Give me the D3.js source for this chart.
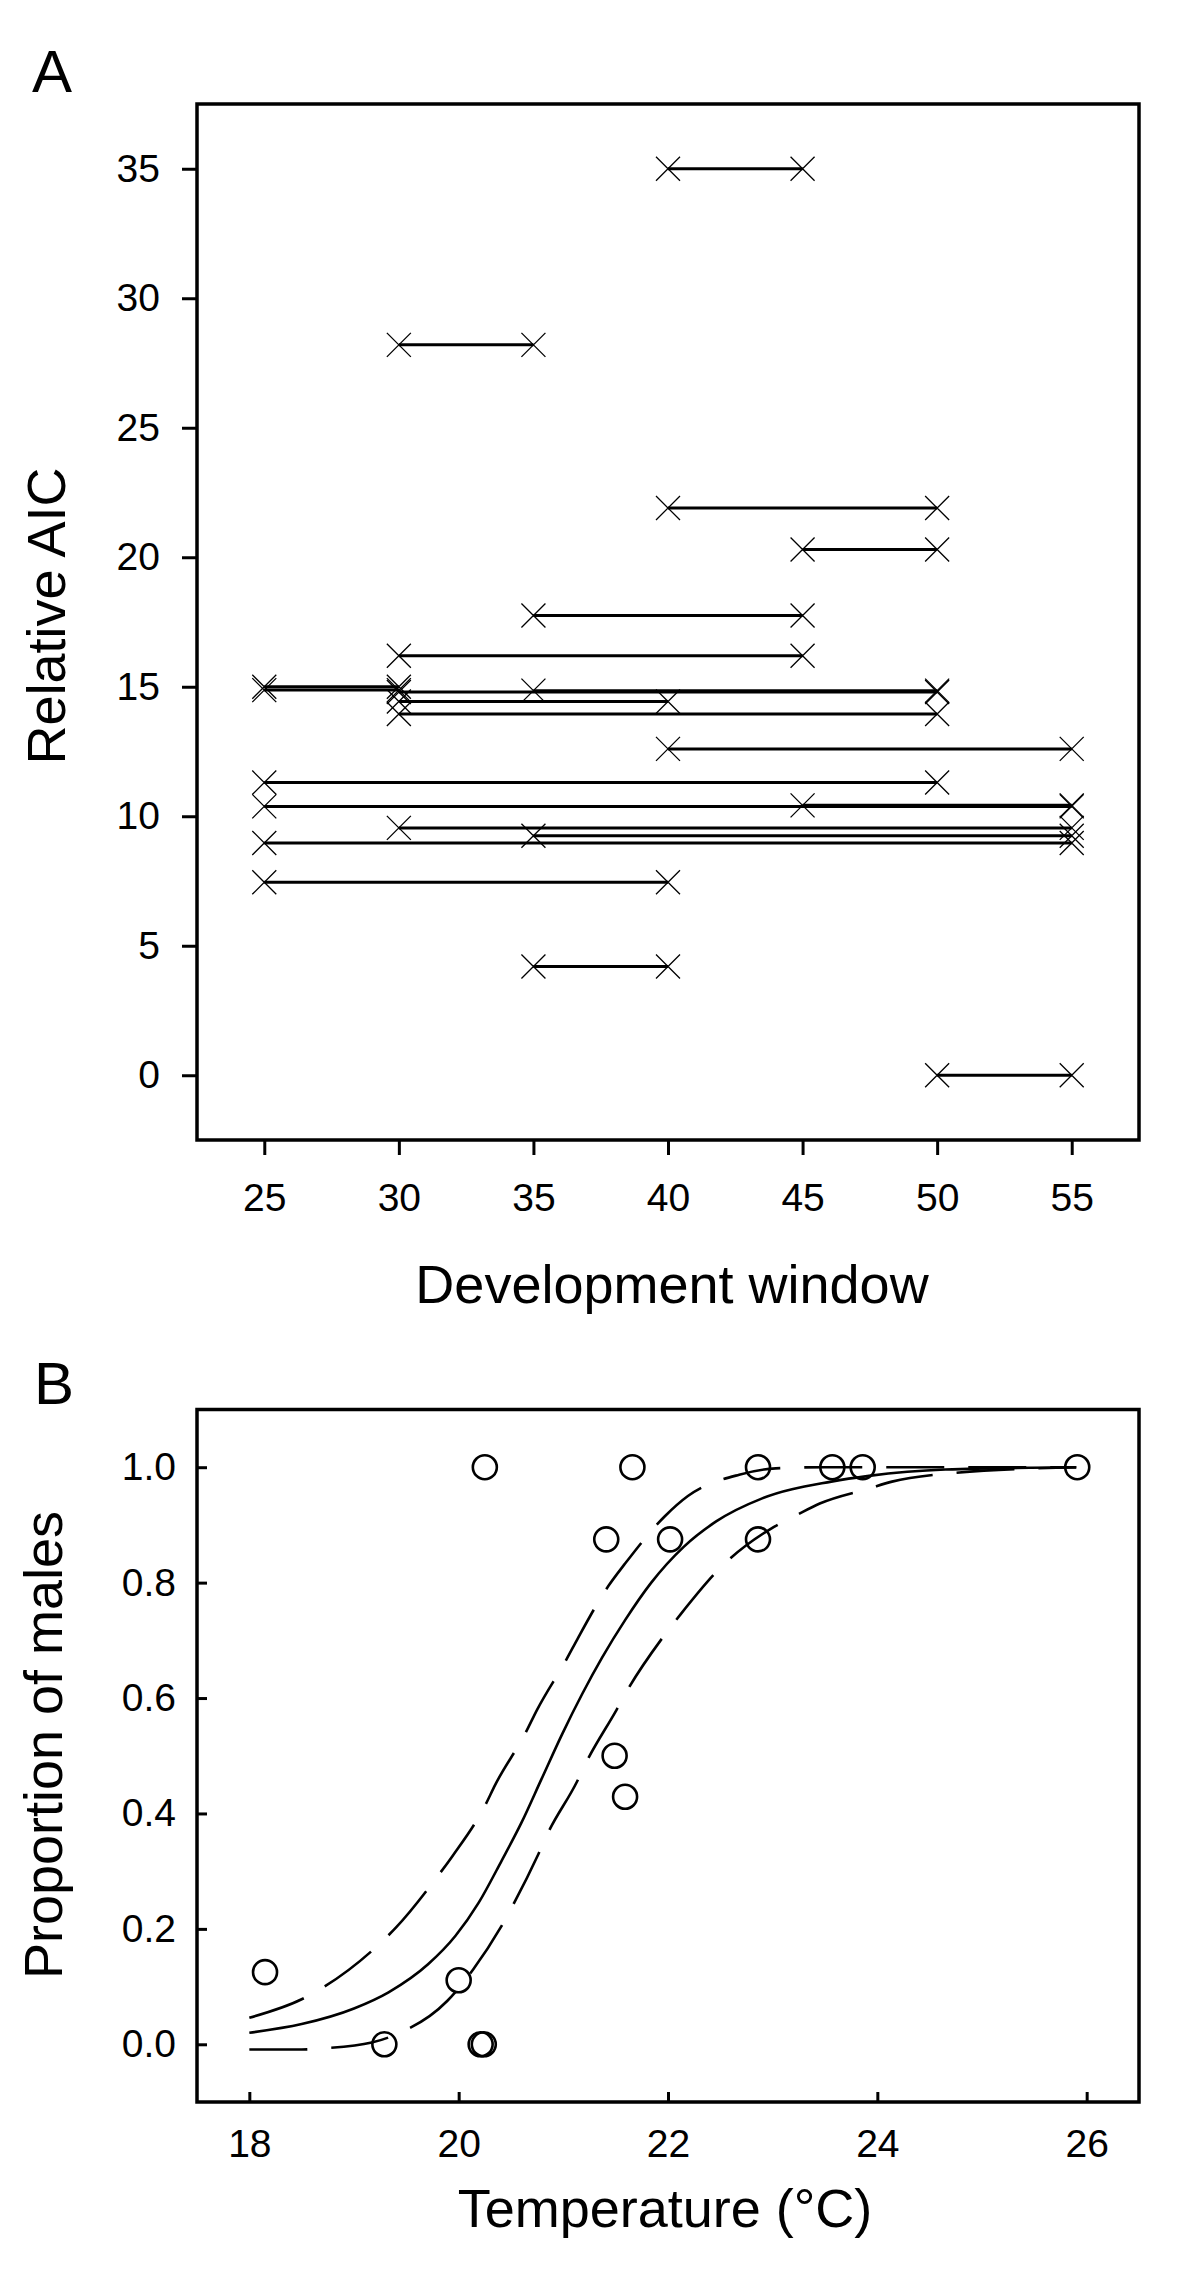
<!DOCTYPE html>
<html>
<head>
<meta charset="utf-8">
<script src="https://cdn.jsdelivr.net/npm/d3@7"></script>
<style>
  html, body { margin: 0; padding: 0; background: #fff; }
  svg { display: block; }
  text { font-family: "Liberation Sans", Arial, sans-serif; fill: #000; }
</style>
</head>
<body>
<svg id="chart" width="1200" height="2295"></svg>
<script>
// ---------- Panel A data: development windows (start, end) and relative AIC ----------
const windowStart = [40, 30, 40, 45, 35, 30, 25, 25, 30, 35, 30, 30, 40, 25, 25, 45, 30, 35, 25, 25, 35, 50];
const windowEnd   = [45, 35, 50, 50, 45, 45, 30, 30, 50, 50, 40, 50, 55, 50, 55, 55, 55, 55, 55, 40, 40, 55];
const relativeAIC = [35.0, 28.2, 21.9, 20.3, 17.75, 16.2, 15.0, 14.87, 14.8, 14.85, 14.43, 13.95, 12.6, 11.3, 10.38, 10.42, 9.55, 9.25, 8.97, 7.45, 4.2, 0.0];
const aicXTicks = [25, 30, 35, 40, 45, 50, 55];
const aicYTicks = [0, 5, 10, 15, 20, 25, 30, 35];

// ---------- Panel B data: observed proportions of males ----------
const obsTemp = [18.15, 19.29, 20.0, 20.21, 20.24, 20.25, 21.41, 21.49, 21.59, 21.66, 22.02, 22.86, 22.86, 23.57, 23.86, 25.91];
const obsProp = [0.125, 0.0, 0.111, 0.0, 0.0, 1.0, 0.875, 0.5, 0.429, 1.0, 0.875, 1.0, 0.875, 1.0, 1.0, 1.0];

// fitted curve (solid)
const fitTemp = [18.0, 18.5, 19.0, 19.33, 19.71, 19.97, 20.19, 20.41, 20.6, 20.79, 20.99, 21.18, 21.37, 21.59, 21.84, 22.15, 22.46, 22.9, 23.56, 23.92, 24.65, 25.9];
const fitProp = [0.020, 0.035, 0.062, 0.090, 0.139, 0.188, 0.245, 0.318, 0.384, 0.459, 0.538, 0.607, 0.670, 0.735, 0.800, 0.862, 0.906, 0.946, 0.975, 0.985, 0.996, 1.0];
// upper confidence band (dashed)
const upperTemp = [18.0, 18.5, 18.7, 19.19, 19.4, 19.79, 19.94, 20.25, 20.35, 20.64, 20.75, 21.03, 21.14, 21.43, 21.59, 21.97, 22.19, 22.68, 23.03, 23.5, 24.5, 25.9];
const upperProp = [0.046, 0.078, 0.098, 0.165, 0.202, 0.289, 0.326, 0.413, 0.450, 0.540, 0.580, 0.667, 0.704, 0.794, 0.833, 0.915, 0.950, 0.987, 0.998, 1.0, 1.0, 1.0];
// lower confidence band (dashed)
const lowerTemp = [18.0, 18.5, 18.71, 19.17, 19.4, 19.89, 20.14, 20.4, 20.53, 20.76, 20.85, 21.13, 21.22, 21.51, 21.62, 21.95, 22.12, 22.53, 22.97, 23.23, 23.45, 23.92, 24.14, 24.61, 25.9];
const lowerProp = [-0.009, -0.009, -0.007, 0.003, 0.017, 0.075, 0.130, 0.202, 0.245, 0.329, 0.365, 0.455, 0.489, 0.580, 0.616, 0.705, 0.745, 0.831, 0.892, 0.917, 0.937, 0.963, 0.975, 0.988, 1.0];
const tempTicks = [18, 20, 22, 24, 26];
const propTicks = [0.0, 0.2, 0.4, 0.6, 0.8, 1.0];

const svg = d3.select("#chart");
svg.append("rect").attr("width", 1200).attr("height", 2295).attr("fill", "#fff");

const TICK_FONT = 39;
const TITLE_FONT = 54;
const FONT = '"Liberation Sans", Arial, sans-serif';

// ================= PANEL A =================
const A = { left: 197, right: 1139, top: 104, bottom: 1140 };
const xA = d3.scaleLinear().domain([22.5, 57.5]).range([A.left, A.right]);
const yA = d3.scaleLinear().domain([-2.5, 37.5]).range([A.bottom, A.top]);

const gA = svg.append("g");

// axes with outward ticks
const axLeftA = gA.append("g").attr("transform", `translate(${A.left},0)`)
  .call(d3.axisLeft(yA).tickValues(aicYTicks).tickSize(15).tickPadding(22).tickFormat(d3.format("d")));
const axBotA = gA.append("g").attr("transform", `translate(0,${A.bottom})`)
  .call(d3.axisBottom(xA).tickValues(aicXTicks).tickSize(15).tickPadding(28).tickFormat(d3.format("d")));
[axLeftA, axBotA].forEach(ax => {
  ax.select(".domain").remove();
  ax.selectAll(".tick line").attr("stroke", "#000").attr("stroke-width", 3);
  ax.selectAll(".tick text").attr("font-size", TICK_FONT).attr("font-family", FONT).attr("fill", "#000");
});

// frame
gA.append("rect").attr("x", A.left).attr("y", A.top)
  .attr("width", A.right - A.left).attr("height", A.bottom - A.top)
  .attr("fill", "none").attr("stroke", "#000").attr("stroke-width", 3.5);

const segs = windowStart.map((s, i) => ({ s, e: windowEnd[i], v: relativeAIC[i] }));

gA.append("g").selectAll("line").data(segs).join("line")
  .attr("x1", d => xA(d.s)).attr("x2", d => xA(d.e))
  .attr("y1", d => yA(d.v)).attr("y2", d => yA(d.v))
  .attr("stroke", "#000").attr("stroke-width", 3);

const ends = [];
segs.forEach(d => { ends.push({ x: d.s, v: d.v }); ends.push({ x: d.e, v: d.v }); });
const xs = 12;
const crossPath = d => {
  const cx = xA(d.x), cy = yA(d.v);
  return `M${cx - xs},${cy - xs}L${cx + xs},${cy + xs}M${cx - xs},${cy + xs}L${cx + xs},${cy - xs}`;
};
gA.append("g").selectAll("path").data(ends).join("path")
  .attr("d", crossPath).attr("fill", "none").attr("stroke", "#000").attr("stroke-width", 1.3);

// labels
gA.append("text").attr("x", 32).attr("y", 92).attr("font-size", 60).text("A");
gA.append("text").attr("transform", `translate(65,616) rotate(-90)`)
  .attr("text-anchor", "middle").attr("font-size", TITLE_FONT).text("Relative AIC");
gA.append("text").attr("x", 672).attr("y", 1303)
  .attr("text-anchor", "middle").attr("font-size", TITLE_FONT).text("Development window");

// ================= PANEL B =================
const B = { left: 197, right: 1139, top: 1409.5, bottom: 2102 };
const xB = d3.scaleLinear().domain([17.5, 26.5]).range([B.left, B.right]);
const yB = d3.scaleLinear().domain([-0.1, 1.1]).range([B.bottom, B.top]);

const gB = svg.append("g");

const axLeftB = gB.append("g").attr("transform", `translate(${B.left},0)`)
  .call(d3.axisLeft(yB).tickValues(propTicks).tickSizeInner(-10).tickSizeOuter(0).tickPadding(21).tickFormat(d3.format(".1f")));
const axBotB = gB.append("g").attr("transform", `translate(0,${B.bottom})`)
  .call(d3.axisBottom(xB).tickValues(tempTicks).tickSizeInner(-10).tickSizeOuter(0).tickPadding(27).tickFormat(d3.format("d")));
[axLeftB, axBotB].forEach(ax => {
  ax.select(".domain").remove();
  ax.selectAll(".tick line").attr("stroke", "#000").attr("stroke-width", 3);
  ax.selectAll(".tick text").attr("font-size", TICK_FONT).attr("font-family", FONT).attr("fill", "#000");
});

gB.append("rect").attr("x", B.left).attr("y", B.top)
  .attr("width", B.right - B.left).attr("height", B.bottom - B.top)
  .attr("fill", "none").attr("stroke", "#000").attr("stroke-width", 3.5);

const lineB = d3.line().x(d => xB(d[0])).y(d => yB(d[1])).curve(d3.curveMonotoneX);
const fitPts = fitTemp.map((t, i) => [t, fitProp[i]]);
const upPts = upperTemp.map((t, i) => [t, upperProp[i]]);
const loPts = lowerTemp.map((t, i) => [t, lowerProp[i]]);

gB.append("path").attr("d", lineB(upPts)).attr("fill", "none").attr("stroke", "#000")
  .attr("stroke-width", 2.6).attr("stroke-dasharray", "58,24");
gB.append("path").attr("d", lineB(loPts)).attr("fill", "none").attr("stroke", "#000")
  .attr("stroke-width", 2.6).attr("stroke-dasharray", "58,24");
gB.append("path").attr("d", lineB(fitPts)).attr("fill", "none").attr("stroke", "#000")
  .attr("stroke-width", 2.6);

const obs = obsTemp.map((t, i) => ({ t, p: obsProp[i] }));
gB.append("g").selectAll("circle").data(obs).join("circle")
  .attr("cx", d => xB(d.t)).attr("cy", d => yB(d.p)).attr("r", 12)
  .attr("fill", "none").attr("stroke", "#000").attr("stroke-width", 2.6);

gB.append("text").attr("x", 34).attr("y", 1404).attr("font-size", 60).text("B");
gB.append("text").attr("transform", `translate(62,1745) rotate(-90)`)
  .attr("text-anchor", "middle").attr("font-size", TITLE_FONT).text("Proportion of males");
gB.append("text").attr("x", 665).attr("y", 2227)
  .attr("text-anchor", "middle").attr("font-size", TITLE_FONT).text("Temperature (°C)");
</script>
</body>
</html>
